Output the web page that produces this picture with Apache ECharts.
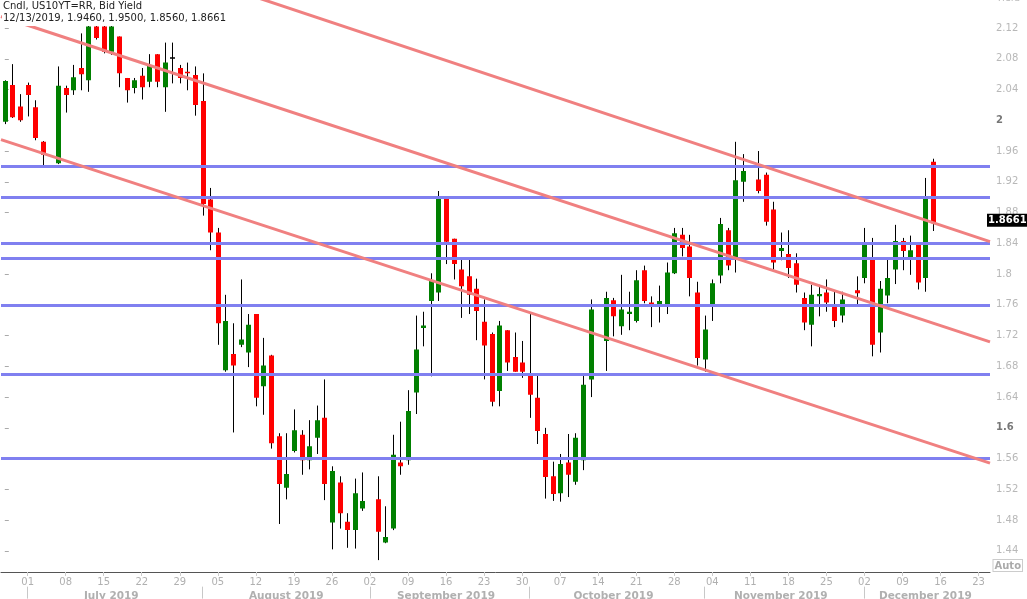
<!DOCTYPE html>
<html><head><meta charset="utf-8">
<script src="https://cdn.jsdelivr.net/npm/echarts@6/dist/echarts.min.js"></script>
<style>html,body{margin:0;padding:0;background:#fff}#c{width:1027px;height:599px}</style>
</head><body><div id="c"></div>
<script>
// Trading-day categories (weekdays); holidays kept as empty slots
const dates = [
 '06/26','06/27','06/28',
 '07/01','07/02','07/03','07/04','07/05',
 '07/08','07/09','07/10','07/11','07/12',
 '07/15','07/16','07/17','07/18','07/19',
 '07/22','07/23','07/24','07/25','07/26',
 '07/29','07/30','07/31','08/01','08/02',
 '08/05','08/06','08/07','08/08','08/09',
 '08/12','08/13','08/14','08/15','08/16',
 '08/19','08/20','08/21','08/22','08/23',
 '08/26','08/27','08/28','08/29','08/30',
 '09/02','09/03','09/04','09/05','09/06',
 '09/09','09/10','09/11','09/12','09/13',
 '09/16','09/17','09/18','09/19','09/20',
 '09/23','09/24','09/25','09/26','09/27',
 '09/30','10/01','10/02','10/03','10/04',
 '10/07','10/08','10/09','10/10','10/11',
 '10/14','10/15','10/16','10/17','10/18',
 '10/21','10/22','10/23','10/24','10/25',
 '10/28','10/29','10/30','10/31','11/01',
 '11/04','11/05','11/06','11/07','11/08',
 '11/11','11/12','11/13','11/14','11/15',
 '11/18','11/19','11/20','11/21','11/22',
 '11/25','11/26','11/27','11/28','11/29',
 '12/02','12/03','12/04','12/05','12/06',
 '12/09','12/10','12/11','12/12','12/13',
 '12/16','12/17','12/18','12/19','12/20',
 '12/23','12/24'
];
const openVals = [
 1.998,2.046,2.018,
 2.046,2.017,1.972,null,1.944,
 2.042,2.039,2.068,2.052,2.122,
 2.122,2.089,2.109,2.055,2.042,
 2.058,2.050,2.086,2.043,2.082,
 2.068,2.063,2.059,2.025,1.897,
 1.854,1.675,1.696,1.708,1.698,
 1.748,1.654,1.694,1.589,1.522,
 1.570,1.591,1.558,1.587,1.613,
 1.477,1.529,1.478,1.467,1.495,
 null,1.507,1.451,1.469,1.555,
 1.558,1.646,1.730,1.765,1.776,
 1.899,1.846,1.806,1.797,1.781,
 1.738,1.722,1.648,1.727,1.692,
 1.685,1.669,1.639,1.592,1.537,
 1.515,1.555,1.530,1.558,1.663,
 null,1.713,1.766,1.732,1.748,
 1.739,1.805,1.763,1.760,1.758,
 1.801,1.851,1.836,1.776,1.689,
 1.758,1.798,1.857,1.819,1.920,
 null,1.923,1.929,1.884,1.830,
 1.826,1.814,1.769,1.734,1.771,
 1.776,1.760,1.746,null,1.779,
 1.795,1.821,1.724,1.772,1.806,
 1.843,1.819,1.838,1.795,1.946
];
const highVals = [
 2.052,2.073,2.034,
 2.049,2.026,1.973,null,2.070,
 2.045,2.072,2.113,2.124,2.124,
 2.124,2.124,2.109,2.055,2.055,
 2.068,2.086,2.086,2.101,2.101,
 2.072,2.075,2.070,2.061,1.912,
 1.860,1.773,1.736,1.793,1.748,
 1.748,1.717,1.695,1.593,1.593,
 1.624,1.597,1.610,1.629,1.663,
 1.550,1.537,1.489,1.534,1.542,
 null,1.537,1.498,1.591,1.608,
 1.649,1.746,1.751,1.801,1.908,
 1.899,1.846,1.821,1.821,1.794,
 1.767,1.724,1.739,1.727,1.724,
 1.713,1.748,1.668,1.600,1.556,
 1.566,1.592,1.593,1.669,1.767,
 null,1.777,1.769,1.799,1.777,
 1.805,1.811,1.771,1.785,1.815,
 1.860,1.860,1.851,1.790,1.746,
 1.793,1.873,1.860,1.972,1.956,
 null,1.960,1.932,1.894,1.854,
 1.857,1.827,1.776,1.786,1.786,
 1.793,1.779,1.777,null,1.797,
 1.860,1.847,1.791,1.819,1.864,
 1.847,1.850,1.841,1.925,1.950
];
const lowVals = [
 1.995,2.003,1.998,
 2.005,1.974,1.939,null,1.943,
 2.010,2.033,2.039,2.037,2.105,
 2.087,2.085,2.043,2.023,2.035,
 2.027,2.043,2.043,2.011,2.048,
 2.048,2.039,2.006,1.876,1.831,
 1.708,1.673,1.594,1.705,1.679,
 1.628,1.617,1.573,1.475,1.507,
 1.568,1.539,1.546,1.566,1.506,
 1.442,1.469,1.444,1.443,1.492,
 null,1.428,1.450,1.467,1.539,
 1.552,1.618,1.706,1.667,1.765,
 1.813,1.793,1.743,1.748,1.714,
 1.663,1.628,1.628,1.674,1.673,
 1.665,1.613,1.579,1.508,1.505,
 1.504,1.510,1.526,1.545,1.640,
 null,1.674,1.719,1.721,1.727,
 1.737,1.762,1.731,1.737,1.748,
 1.800,1.823,1.771,1.681,1.673,
 1.739,1.788,1.805,1.802,1.894,
 null,1.905,1.863,1.805,1.818,
 1.795,1.776,1.727,1.706,1.745,
 1.751,1.731,1.737,null,1.759,
 1.788,1.693,1.698,1.762,1.787,
 1.805,1.799,1.780,1.777,1.856
];
const closeVals = [
 2.051,2.004,2.000,
 2.033,1.977,1.955,null,2.045,
 2.033,2.056,2.060,2.122,2.107,
 2.089,2.122,2.061,2.039,2.052,
 2.043,2.072,2.050,2.075,2.082,
 2.055,2.061,2.020,1.891,1.854,
 1.736,1.739,1.681,1.715,1.734,
 1.639,1.681,1.580,1.527,1.540,
 1.597,1.558,1.576,1.610,1.527,
 1.544,1.489,1.467,1.515,1.505,
 null,1.465,1.458,1.565,1.550,
 1.622,1.702,1.733,1.791,1.901,
 1.842,1.813,1.784,1.773,1.752,
 1.707,1.634,1.733,1.685,1.673,
 1.673,1.643,1.596,1.536,1.514,
 1.553,1.539,1.587,1.656,1.754,
 null,1.769,1.745,1.754,1.751,
 1.792,1.765,1.759,1.765,1.802,
 1.853,1.834,1.795,1.691,1.728,
 1.788,1.865,1.811,1.922,1.934,
 null,1.908,1.868,1.815,1.834,
 1.808,1.786,1.737,1.773,1.774,
 1.763,1.739,1.767,null,1.775,
 1.838,1.708,1.781,1.795,1.843,
 1.830,1.831,1.789,1.899,1.8661
];
// Drawn channel lines: value at left and right plot edge (category-index space)
const trendX = [-0.5, 129.5];
const upperLine = [2.2705, 1.8422];
const middleLine = [2.135, 1.7118];
const lowerLine = [1.9748, 1.5542];
// Horizontal support / resistance levels
const levels = [1.942, 1.900, 1.839, 1.822, 1.756, 1.671, 1.557];
// Axis label helpers
const monthStartDates = ['07/01','08/01','09/02','10/01','11/01','12/02'];
const monthLabelDates = ['07/16','08/16','09/16','10/16','11/15','12/12'];
const monthNames = ['July 2019','August 2019','September 2019','October 2019','November 2019','December 2019'];
const yTicks = {min: 1.40, max: 2.16, interval: 0.04};

const UP = '#008000', DOWN = '#ff0000';
const FONT = 'DejaVu Sans';

const candles = [];
for (let i = 0; i < openVals.length; i++) {
  if (openVals[i] == null) continue;
  candles.push([dates[i], openVals[i], closeVals[i], lowVals[i], highVals[i]]);
}
const last = openVals.length - 1;
const titleText = 'Cndl, US10YT=RR, Bid Yield\n' + dates[last] + '/2019, ' +
  openVals[last].toFixed(4) + ', ' + highVals[last].toFixed(4) + ', ' +
  lowVals[last].toFixed(4) + ', ' + closeVals[last].toFixed(4);

function renderCandle(params, api) {
  const cat = api.value(0);
  const o = api.value(1), c = api.value(2), l = api.value(3), h = api.value(4);
  const pO = api.coord([cat, o]), pC = api.coord([cat, c]);
  const pL = api.coord([cat, l]), pH = api.coord([cat, h]);
  const cx = Math.round(pO[0]) + 0.5;
  const bw = 5;
  const top = Math.min(pO[1], pC[1]), bot = Math.max(pO[1], pC[1]);
  const color = c > o ? UP : (c < o ? DOWN : '#000');
  return {
    type: 'group',
    children: [
      {type: 'line', shape: {x1: cx, y1: pH[1], x2: cx, y2: pL[1]}, style: {stroke: '#000', lineWidth: 1}},
      {type: 'rect', shape: {x: cx - bw / 2, y: top, width: bw, height: Math.max(bot - top, 1.5)}, style: {fill: color}}
    ]
  };
}

const lineSeries = (vals) => ({
  type: 'line', xAxisIndex: 1, yAxisIndex: 0,
  data: [[trendX[0], vals[0]], [trendX[1], vals[1]]],
  showSymbol: false, symbol: 'none', silent: true, z: 4,
  lineStyle: {color: '#f08080', width: 3}
});

const chart = echarts.init(document.getElementById('c'), null, {renderer: 'canvas'});
chart.setOption({
  animation: false,
  backgroundColor: '#fff',
  title: [
    {text: titleText, left: 2, top: -1, padding: [1, 3, 1, 1], backgroundColor: '#fff', z: 10,
     textStyle: {fontFamily: FONT, fontSize: 10, fontWeight: 'normal', color: '#222', lineHeight: 12.5}},
    {text: 'Yield', right: 7, top: -7, padding: 0,
     textStyle: {fontFamily: FONT, fontSize: 10, fontWeight: 'normal', color: '#bbb'}}
  ],
  grid: {left: 1, right: 37, top: -2.76, bottom: 17.36, containLabel: false, outerBoundsMode: 'none'},
  xAxis: [
    {type: 'category', data: dates, position: 'bottom', offset: -9.64, boundaryGap: true,
     axisLine: {show: true, lineStyle: {color: '#555', width: 1}},
     axisTick: {show: true, alignWithLabel: true, length: 4, interval: (i) => (i - 3) % 5 === 0,
                lineStyle: {color: '#ccc'}},
     axisLabel: {interval: (i) => (i - 3) % 5 === 0, formatter: (v) => v.slice(3),
                 color: '#b0b0b0', fontSize: 10, fontFamily: FONT, margin: 5},
     splitLine: {show: false}},
    {type: 'value', min: trendX[0], max: trendX[1], show: false, gridIndex: 0},
    {type: 'category', data: dates, position: 'bottom', offset: 5, boundaryGap: true,
     axisLine: {show: false},
     axisTick: {show: true, alignWithLabel: true, length: 12,
                interval: (i, v) => monthStartDates.indexOf(v) >= 0, lineStyle: {color: '#c8c8c8'}},
     axisLabel: {interval: (i, v) => monthLabelDates.indexOf(v) >= 0,
                 formatter: (v) => monthNames[monthLabelDates.indexOf(v)] || '',
                 color: '#b0b0b0', fontSize: 10.5, fontWeight: 'bold', fontFamily: FONT, margin: 4},
     splitLine: {show: false}}
  ],
  yAxis: {
    type: 'value', position: 'right', min: yTicks.min, max: yTicks.max, interval: yTicks.interval,
    scale: true,
    axisLine: {show: false},
    axisTick: {show: true, length: 4, lineStyle: {color: '#aaa'}},
    splitLine: {show: false},
    axisLabel: {
      showMinLabel: false, showMaxLabel: false, margin: 6,
      color: '#b8b8b8', fontSize: 10, fontFamily: FONT,
      formatter: (v) => {
        const s = String(+(+v).toFixed(2));
        const q = v / 0.4;
        return Math.abs(q - Math.round(q)) < 1e-6 ? '{b|' + s + '}' : s;
      },
      rich: {b: {fontWeight: 'bold', color: '#777', fontSize: 10, fontFamily: FONT}}
    }
  },
  series: [
    {type: 'custom', name: 'US10YT=RR', xAxisIndex: 0, yAxisIndex: 0,
     renderItem: renderCandle, data: candles, encode: {x: 0, y: [1, 2, 3, 4]}, z: 2, clip: true},
    Object.assign(lineSeries(upperLine), {
      markLine: {
        silent: true, symbol: ['none', 'none'], animation: false, z: 3,
        label: {show: false},
        lineStyle: {color: '#8080f0', width: 3, type: 'solid'},
        data: levels.map(v => ({yAxis: v}))
      }
    }),
    Object.assign(lineSeries(middleLine), {
      markLine: {
        silent: true, symbol: ['none', 'none'], animation: false, z: 12,
        lineStyle: {color: 'rgba(0,0,0,0)', width: 1, type: 'solid'},
        label: {show: true, position: 'end', distance: -3,
                formatter: () => closeVals[last].toFixed(4),
                backgroundColor: '#000', color: '#fff', fontWeight: 'bold', fontSize: 10,
                fontFamily: FONT, padding: [2, 1, 1, 1]},
        data: [{yAxis: closeVals[last]}]
      }
    }),
    lineSeries(lowerLine)
  ],
  graphic: [
    {type: 'text', right: 4, bottom: 27, z: 10,
     style: {text: 'Auto', fill: '#aaa', font: 'bold 10px "DejaVu Sans"', backgroundColor: '#fff',
             borderColor: '#ccc', borderWidth: 1, padding: [1, 1, 0, 1]}}
  ]
});
</script>
</body></html>
